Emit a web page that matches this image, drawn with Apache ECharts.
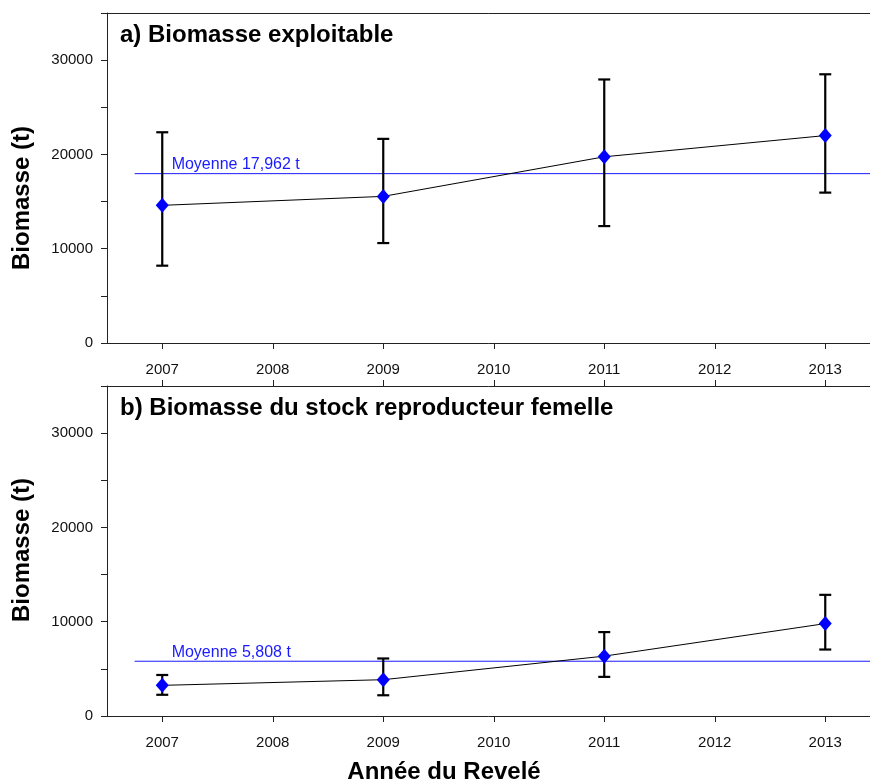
<!DOCTYPE html>
<html>
<head>
<meta charset="utf-8">
<script src="https://cdn.jsdelivr.net/npm/echarts@6/dist/echarts.min.js"></script>
<style>
  html, body { margin: 0; padding: 0; background: #fff; }
  #chart { width: 870px; height: 783px; }
</style>
</head>
<body>
<div id="chart"></div>
<script>
// années du relevé
var annees = [2007, 2009, 2011, 2013];
var etiquettesAnnees = [2007, 2008, 2009, 2010, 2011, 2012, 2013];

// a) biomasse exploitable
var exploitable = [14600, 15550, 19750, 22000];
var exploitableHaut = [22350, 21650, 27950, 28500];
var exploitableBas = [8200, 10600, 12400, 15950];
var moyenneExploitable = 17962;

// b) biomasse du stock reproducteur femelle
var femelle = [3250, 3850, 6350, 9800];
var femelleHaut = [4350, 6100, 8900, 12850];
var femelleBas = [2250, 2200, 4150, 7050];
var moyenneFemelle = 5808;

// étendue de la ligne de moyenne (années)
var etendueMoyenne = [2006.75, 2013.5];

var police = "'Liberation Sans', Arial, sans-serif";
var couleurAxe = '#222';
var bleu = '#1a1aff';

function paires(vals) {
    return annees.map(function (a, i) { return [a, vals[i]]; });
}
function barres(bas, haut) {
    return annees.map(function (a, i) { return [a, bas[i], haut[i]]; });
}

// barres d'erreur
function dessinBarre(params, api) {
    var x = api.value(0);
    var haut = api.coord([x, api.value(2)]);
    var bas = api.coord([x, api.value(1)]);
    var w = 6;
    var st = { stroke: '#000', lineWidth: 2.2 };
    return {
        type: 'group',
        children: [
            { type: 'line', shape: { x1: haut[0], y1: haut[1], x2: bas[0], y2: bas[1] }, style: st },
            { type: 'line', shape: { x1: haut[0] - w, y1: haut[1], x2: haut[0] + w, y2: haut[1] }, style: st },
            { type: 'line', shape: { x1: bas[0] - w, y1: bas[1], x2: bas[0] + w, y2: bas[1] }, style: st }
        ]
    };
}

function axeX(grille, ticksHaut) {
    return [{
        type: 'value', gridIndex: grille, position: 'bottom',
        min: 2006.5, max: 2013.5,
        axisLine: { onZero: false, lineStyle: { color: couleurAxe, width: 1 } },
        axisTick: { length: 6, customValues: etiquettesAnnees, lineStyle: { color: couleurAxe } },
        axisLabel: {
            customValues: etiquettesAnnees, margin: 19, fontSize: 15, color: '#111', fontFamily: police,
            formatter: function (v) { return String(v); }
        },
        splitLine: { show: false }
    }, {
        type: 'value', gridIndex: grille, position: 'top',
        min: 2006.5, max: 2013.5,
        axisLine: { onZero: false, lineStyle: { color: couleurAxe, width: 1 } },
        axisTick: { show: ticksHaut, length: 6, customValues: etiquettesAnnees, lineStyle: { color: couleurAxe } },
        axisLabel: { show: false },
        splitLine: { show: false }
    }];
}

function axeY(grille) {
    return {
        type: 'value', gridIndex: grille,
        min: 0, max: 35000, interval: 5000,
        axisLine: { show: true, onZero: false, lineStyle: { color: couleurAxe, width: 1 } },
        axisTick: { show: true, length: 6, lineStyle: { color: couleurAxe } },
        axisLabel: {
            margin: 14, fontSize: 15, color: '#111', fontFamily: police,
            formatter: function (v) { return v % 10000 === 0 ? String(v) : ''; }
        },
        splitLine: { show: false }
    };
}

// ligne de moyenne : série à part, en bleu, avec son étiquette
function serieMoyenne(idx, moy, texte) {
    return {
        type: 'line', xAxisIndex: idx * 2, yAxisIndex: idx,
        data: etendueMoyenne.map(function (x) { return [x, moy]; }),
        color: bleu,
        symbol: 'none', silent: true,
        lineStyle: { color: bleu, width: 1 },
        z: 2,
        markLine: {
            silent: true,
            symbol: 'none',
            lineStyle: { color: 'rgba(0,0,0,0)', width: 1 },
            label: {
                show: true,
                position: 'insideStartTop', distance: [37, 1],
                formatter: texte, color: bleu, fontSize: 16, fontFamily: police
            },
            data: [[{ coord: [etendueMoyenne[0], moy] }, { coord: [etendueMoyenne[1], moy] }]]
        }
    };
}

function serieLigne(idx, vals) {
    return {
        type: 'line', xAxisIndex: idx * 2, yAxisIndex: idx,
        data: paires(vals),
        symbol: 'diamond', symbolSize: [13, 15],
        itemStyle: { color: '#0000ff' },
        lineStyle: { color: '#000', width: 1 },
        z: 5
    };
}

function serieBarres(idx, bas, haut) {
    return {
        type: 'custom', xAxisIndex: idx * 2, yAxisIndex: idx,
        renderItem: dessinBarre, data: barres(bas, haut),
        encode: { x: 0, y: [1, 2] }, z: 3
    };
}

var gras = 'bold 24px ' + police;

var chart = echarts.init(document.getElementById('chart'));
chart.setOption({
    animation: false,
    backgroundColor: '#fff',
    textStyle: { fontFamily: police },
    grid: [
        { left: 107, right: -10.5, top: 13, height: 330, outerBoundsMode: 'none', containLabel: false },
        { left: 107, right: -10.5, top: 386, height: 330, outerBoundsMode: 'none', containLabel: false }
    ],
    xAxis: axeX(0, false).concat(axeX(1, true)),
    yAxis: [axeY(0), axeY(1)],
    graphic: [
        { type: 'text', x: 120, y: 23, style: { text: 'a) Biomasse exploitable', font: gras, fill: '#000' } },
        { type: 'text', x: 120, y: 396, style: { text: 'b) Biomasse du stock reproducteur femelle', font: gras, fill: '#000' } },
        { type: 'text', x: 22, y: 198, rotation: Math.PI / 2, style: { text: 'Biomasse (t)', font: gras, fill: '#000', textAlign: 'center', textVerticalAlign: 'middle' } },
        { type: 'text', x: 22, y: 550, rotation: Math.PI / 2, style: { text: 'Biomasse (t)', font: gras, fill: '#000', textAlign: 'center', textVerticalAlign: 'middle' } },
        { type: 'text', x: 444, y: 772, style: { text: 'Année du Revelé', font: gras, fill: '#000', textAlign: 'center', textVerticalAlign: 'middle' } }
    ],
    series: [
        serieMoyenne(0, moyenneExploitable, 'Moyenne 17,962 t'),
        serieBarres(0, exploitableBas, exploitableHaut),
        serieLigne(0, exploitable),
        serieMoyenne(1, moyenneFemelle, 'Moyenne 5,808 t'),
        serieBarres(1, femelleBas, femelleHaut),
        serieLigne(1, femelle)
    ]
});
</script>
</body>
</html>
